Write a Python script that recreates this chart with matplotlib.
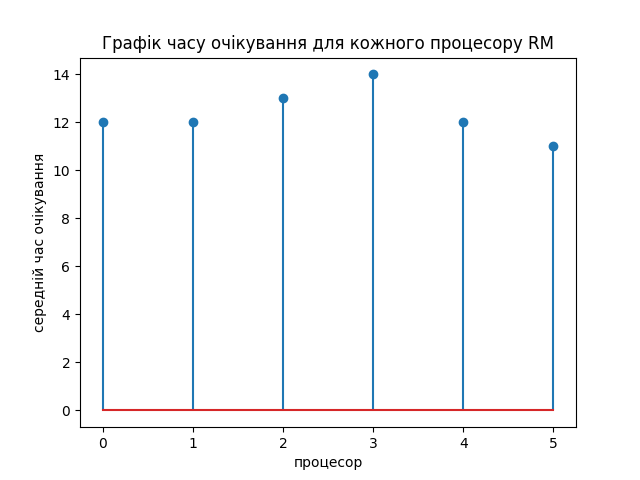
import matplotlib
matplotlib.use('Agg')
from matplotlib import pyplot as plt

processors = [0, 1, 2, 3, 4, 5]
wait_times = [12, 12, 13, 14, 12, 11]

fig = plt.figure(figsize=(6.4, 4.8), dpi=100)
plt.stem(processors, wait_times)
plt.title('Графік часу очікування для кожного процесору RM')
plt.xlabel('процесор')
plt.ylabel('середній час очікування')

plt.savefig('out.png')
